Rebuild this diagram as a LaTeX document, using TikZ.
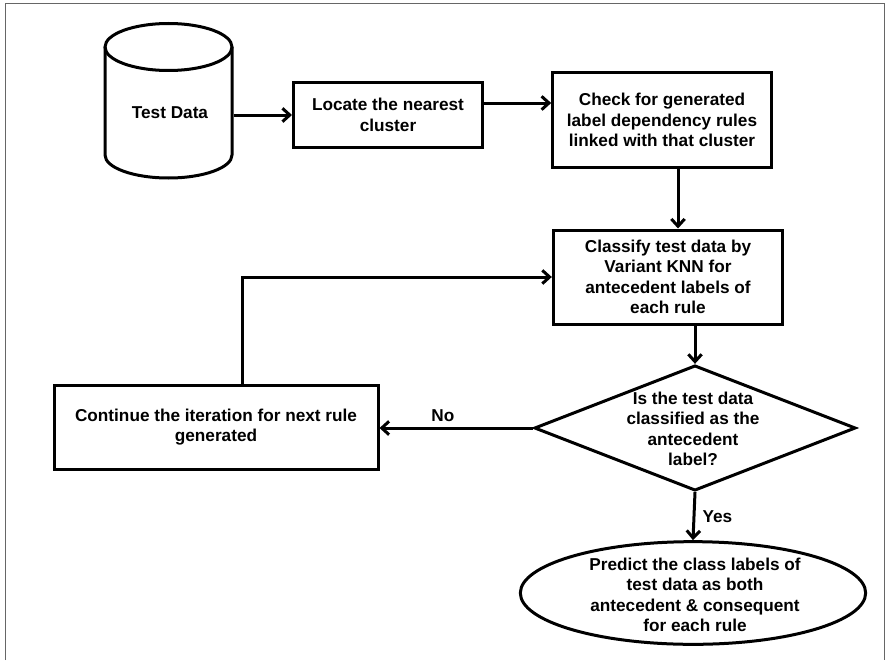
\documentclass[tikz,border=0pt]{standalone}
\usepackage{fontspec}
\setmainfont{Liberation Sans}
\usetikzlibrary{arrows.meta, shapes.geometric}

\begin{document}
\begin{tikzpicture}[x=0.75pt, y=-0.75pt, line width=2.25pt,
  >={Straight Barb[length=5.5pt, width=10pt]},
  font=\fontsize{12.9}{15.4}\selectfont\bfseries,
  box/.style={draw, align=center, inner sep=2pt},
  txt/.style={align=center, inner sep=0pt}]
  \useasboundingbox (0,0) rectangle (888,660);
  % frame
  \draw[black!60, line width=0.75pt] (5,660) -- (5,4) -- (884,4) -- (884,660);
  % test data store (cylinder drawn by hand)
  \node[minimum width=95.25pt, minimum height=117pt, inner sep=0pt] (data) at (168.5,100) {};
  \draw (105,47) -- (105,155) arc[start angle=180, end angle=0, x radius=63.5, y radius=23]
    -- (232,47);
  \draw (168.5,47) ellipse [x radius=63.5, y radius=23.5];
  \node[txt] (datatxt) at (170,113) {Test Data};
  % process boxes
  \node[box, minimum width=141.75pt, minimum height=48pt] (locate) at (388,115)
    {Locate the nearest\\cluster};
  \node[box, minimum width=164pt, minimum height=70.5pt] (check) at (662,120)
    {Check for generated\\label dependency rules\\linked with that cluster};
  \node[box, minimum width=172pt, minimum height=70.5pt] (classify) at (668,277)
    {Classify test data by\\Variant KNN for\\antecedent labels of\\each rule};
  % decision
  \node[draw, diamond, inner sep=0pt, minimum width=241pt, minimum height=94pt] (dec) at (695,428) {};
  \node[txt] (dectxt) at (693,429) {Is the test data\\classified as the\\antecedent\\label?};
  \node[box, minimum width=243pt, minimum height=63pt] (cont) at (216,427)
    {Continue the iteration for next rule\\generated};
  % result
  \node[draw, ellipse, minimum width=259pt, minimum height=77pt] (pred) at (693,593) {};
  \node[txt] (predtxt) at (695,595)
    {Predict the class labels of\\test data as both\\antecedent \& consequent\\for each rule};
  % connectors
  \draw[->] (data.east |- locate.west) -- (locate.west);
  \draw[->] ([yshift=9pt]locate.east) -- ([yshift=9pt]locate.east -| check.west);
  \draw[->] ([xshift=12pt]check.south) -- ([xshift=12pt]check.south |- classify.north);
  \draw[->] (dec.north |- classify.south) -- (dec.north);
  \draw[->] (dec.south) -- node[right, xshift=2pt]{Yes} (pred.north);
  \draw[->] (dec.west) -- node[above, xshift=-10pt]{No} (dec.west -| cont.east);
  \draw[->] ([xshift=19.5pt]cont.north) |- (classify.west);
\end{tikzpicture}
\end{document}
